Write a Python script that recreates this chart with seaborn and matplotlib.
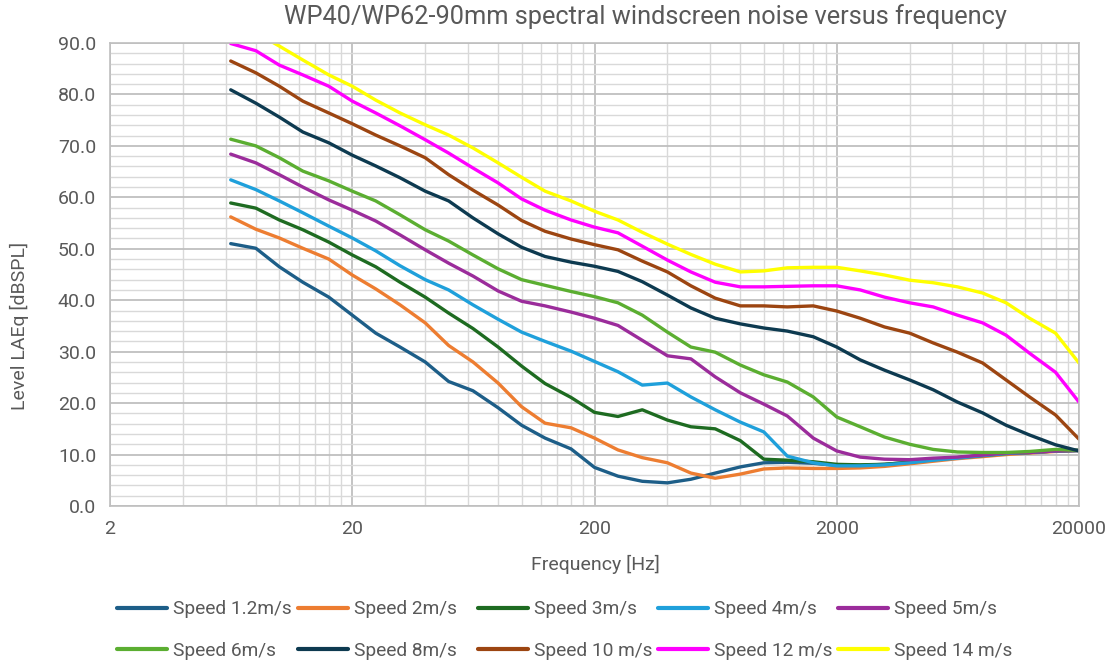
import numpy as np
import pandas as pd
import matplotlib
matplotlib.use("Agg")
import matplotlib.pyplot as plt
import seaborn as sns
from matplotlib.ticker import FixedLocator, FuncFormatter, NullFormatter

# 1/3 octave centre frequencies [Hz]
freq = [6.3, 8, 10, 12.5, 16, 20, 25, 31.5, 40, 50, 63, 80, 100, 125, 160, 200,
        250, 315, 400, 500, 630, 800, 1000, 1250, 1600, 2000, 2500, 3150, 4000,
        5000, 6300, 8000, 10000, 12500, 16000, 20000]

# levels [dBSPL]
speed_1_2 = [51.0, 50.1, 46.5, 43.5, 40.6, 37.1, 33.6, 30.9, 28.0, 24.2, 22.4, 19.1,
             15.7, 13.2, 11.1, 7.5, 5.8, 4.8, 4.5, 5.2, 6.4, 7.6, 8.4, 8.5, 8.3, 7.9,
             7.9, 8.1, 8.5, 9.0, 9.4, 9.8, 10.2, 10.4, 10.7, 10.8]
speed_2 = [56.2, 53.8, 52.1, 50.1, 48.0, 44.9, 42.2, 39.1, 35.6, 31.2, 28.0, 23.9,
           19.3, 16.1, 15.2, 13.2, 10.9, 9.4, 8.4, 6.4, 5.4, 6.2, 7.2, 7.4, 7.3, 7.3,
           7.4, 7.7, 8.2, 8.7, 9.2, 9.6, 10.0, 10.3, 10.6, 10.8]
speed_3 = [58.9, 57.9, 55.6, 53.7, 51.3, 48.8, 46.5, 43.5, 40.6, 37.5, 34.5, 30.9,
           27.2, 23.8, 21.1, 18.2, 17.4, 18.7, 16.7, 15.4, 15.0, 12.7, 9.1, 8.9, 8.6,
           8.1, 8.0, 8.1, 8.5, 9.0, 9.4, 9.8, 10.2, 10.4, 10.7, 10.8]
speed_4 = [63.4, 61.5, 59.3, 57.0, 54.4, 52.1, 49.6, 46.7, 44.0, 42.0, 39.1, 36.3,
           33.8, 32.0, 30.1, 28.1, 26.1, 23.5, 23.9, 21.2, 18.7, 16.3, 14.4, 9.7, 8.4,
           7.8, 7.8, 8.0, 8.4, 8.9, 9.3, 9.8, 10.2, 10.4, 10.7, 10.8]
speed_5 = [68.4, 66.7, 64.4, 62.0, 59.5, 57.5, 55.4, 52.7, 49.8, 47.2, 44.7, 41.8,
           39.8, 38.9, 37.7, 36.5, 35.1, 32.2, 29.2, 28.6, 25.1, 22.0, 19.8, 17.5,
           13.2, 10.7, 9.5, 9.1, 9.0, 9.3, 9.5, 9.9, 10.3, 10.4, 10.7, 10.8]
speed_6 = [71.3, 70.0, 67.7, 65.1, 63.2, 61.2, 59.3, 56.6, 53.7, 51.5, 48.8, 46.1,
           44.0, 42.9, 41.7, 40.7, 39.5, 37.1, 33.8, 30.9, 29.9, 27.4, 25.5, 24.1,
           21.2, 17.3, 15.4, 13.4, 12.0, 11.0, 10.5, 10.4, 10.4, 10.6, 11.0, 10.8]
speed_8 = [80.9, 78.3, 75.6, 72.7, 70.6, 68.2, 66.1, 63.8, 61.2, 59.3, 56.0, 52.9,
           50.3, 48.5, 47.4, 46.6, 45.6, 43.6, 41.0, 38.5, 36.5, 35.4, 34.6, 34.0,
           32.9, 30.9, 28.4, 26.4, 24.5, 22.6, 20.2, 18.1, 15.7, 13.8, 11.9, 10.7]
speed_10 = [86.5, 84.2, 81.6, 78.7, 76.4, 74.3, 72.1, 70.0, 67.7, 64.4, 61.4, 58.5,
            55.5, 53.4, 51.9, 50.8, 49.8, 47.6, 45.5, 42.8, 40.4, 38.9, 38.9, 38.7,
            38.9, 37.9, 36.5, 34.8, 33.6, 31.7, 29.9, 27.8, 24.5, 21.2, 17.7, 13.0]
speed_12 = [89.9, 88.5, 85.7, 83.8, 81.6, 78.7, 76.4, 73.9, 71.2, 68.6, 65.7, 62.8,
            59.7, 57.5, 55.6, 54.2, 53.1, 50.5, 47.8, 45.5, 43.5, 42.6, 42.6, 42.7,
            42.8, 42.8, 42.0, 40.6, 39.5, 38.7, 37.1, 35.6, 33.2, 29.7, 26.0, 20.2]
speed_14 = [94.0, 92.0, 89.4, 86.7, 83.8, 81.6, 78.9, 76.4, 74.1, 72.1, 69.6, 66.7,
            63.9, 61.2, 59.3, 57.3, 55.6, 53.2, 50.9, 48.9, 47.0, 45.5, 45.7, 46.3,
            46.4, 46.4, 45.7, 44.9, 43.9, 43.4, 42.6, 41.4, 39.5, 36.5, 33.6, 27.8]

labels = ["Speed 1.2m/s", "Speed 2m/s", "Speed 3m/s", "Speed 4m/s", "Speed 5m/s",
          "Speed 6m/s", "Speed 8m/s", "Speed 10 m/s", "Speed 12 m/s", "Speed 14 m/s"]
series = [speed_1_2, speed_2, speed_3, speed_4, speed_5,
          speed_6, speed_8, speed_10, speed_12, speed_14]
colors = ["#1D5E88", "#ED7D31", "#1E6B21", "#1FA0DB", "#9B2C9B",
          "#5BAE31", "#0D3A50", "#9C4511", "#FF00FF", "#FFFF00"]

x_major = [2, 20, 200, 2000, 20000]

rows = []
for lab, vals in zip(labels, series):
    for f, v in zip(freq, vals):
        rows.append((lab, f, v))
df = pd.DataFrame(rows, columns=["series", "freq", "level"])

sns.set_style("white")
plt.rcParams['font.family'] = ['Roboto', 'DejaVu Sans']
txt = "#595959"

fig = plt.figure(figsize=(11.11, 6.61), dpi=100)
ax = fig.add_axes([110 / 1111, 1 - 506 / 661, (1079 - 110) / 1111, (506 - 43) / 661])

sns.lineplot(data=df, x="freq", y="level", hue="series", hue_order=labels,
             palette=dict(zip(labels, colors)), linewidth=2.4, sort=False, ax=ax)

ax.set_xscale("log")
ax.set_xlim(2, 20000)
ax.set_ylim(0, 90)

ax.xaxis.set_major_locator(FixedLocator(x_major))
ax.xaxis.set_minor_locator(FixedLocator([m * 10 ** d for d in range(4)
                                         for m in (4, 6, 8, 10, 12, 14, 16, 18)]))
ax.xaxis.set_major_formatter(FuncFormatter(lambda v, p: f"{v:g}"))
ax.xaxis.set_minor_formatter(NullFormatter())
ax.yaxis.set_major_locator(FixedLocator(np.arange(0, 91, 10)))
ax.yaxis.set_minor_locator(FixedLocator(np.arange(0, 91, 2)))
ax.yaxis.set_major_formatter(FuncFormatter(lambda v, p: f"{v:.1f}"))

ax.grid(which="major", color="#BFBFBF", linewidth=1.3)
ax.grid(which="minor", color="#D9D9D9", linewidth=1.0)
ax.set_axisbelow(True)
ax.tick_params(which="both", length=0, labelsize=14, labelcolor=txt, pad=10)
for s in ax.spines.values():
    s.set_color("#BFBFBF")
    s.set_linewidth(1.2)

ax.set_xlabel("")
ax.set_ylabel("")
fig.text(595 / 1111, 1 - 564 / 661, "Frequency [Hz]", ha="center", va="center",
         fontsize=14, color=txt)
fig.text(19 / 1111, 1 - 326 / 661, "Level LAEq [dBSPL]", ha="center", va="center",
         rotation=90, fontsize=14, color=txt)
fig.text(645 / 1111, 1 - 17 / 661,
         "WP40/WP62-90mm spectral windscreen noise versus frequency",
         ha="center", va="center", fontsize=18.3, color=txt)

# legend: one small legend per column so the columns sit at even spacing
handles, labs = ax.get_legend_handles_labels()
ax.get_legend().remove()
col_left = [117, 298, 478, 658, 838]
for c, xl in enumerate(col_left):
    idx = [c, c + 5]
    leg = fig.legend([handles[i] for i in idx], [labs[i] for i in idx],
                     loc="center left", bbox_to_anchor=(xl / 1111, 1 - 630 / 661),
                     frameon=False, fontsize=13.8, handlelength=2.6,
                     handletextpad=0.3, labelspacing=1.2, borderpad=0,
                     borderaxespad=0)
    for h in leg.legend_handles:
        h.set_linewidth(3)
    for t in leg.get_texts():
        t.set_color(txt)

fig.savefig("out.png", dpi=100)
